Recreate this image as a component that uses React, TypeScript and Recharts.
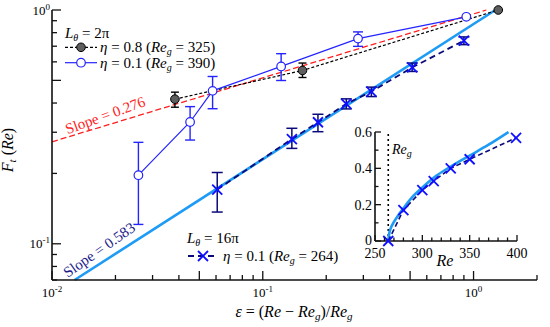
import React from 'react';
import { LineChart, Line, XAxis, YAxis, ErrorBar, ReferenceLine } from 'recharts';

// ---- main panel data: epsilon vs F_t ----
// L_theta = 2pi, eta = 0.8 (Re_g = 325)
const eta08Eps = [0.0383, 0.1543, 1.31];
const eta08F = [0.4155, 0.5513, 1.0];
const eta08Lo = [0.3839, 0.5144, null];
const eta08Hi = [0.4452, 0.5931, null];

// L_theta = 2pi, eta = 0.1 (Re_g = 390)
const eta01Eps = [0.0257, 0.0452, 0.0578, 0.1222, 0.2831, 0.924];
const eta01F = [0.1965, 0.3319, 0.451, 0.5736, 0.7544, 0.935];
const eta01Lo = [0.121, 0.2778, 0.3782, 0.4994, 0.699, null];
const eta01Hi = [0.2716, 0.3861, 0.5195, 0.6503, 0.806, null];

// L_theta = 16pi, eta = 0.1 (Re_g = 264)
const l16Eps = [0.0608, 0.1374, 0.1827, 0.249, 0.3275, 0.5114, 0.9];
const l16F = [0.1706, 0.2805, 0.331, 0.3966, 0.4479, 0.5679, 0.7396];
const l16Lo = [0.1367, 0.2559, 0.3016, 0.3775, 0.4263, 0.5459, 0.7109];
const l16Hi = [0.2018, 0.3119, 0.3581, 0.4168, 0.4678, 0.5931, 0.767];

// power-law guide lines
const fit276Eps = [0.01, 1.15];
const fit276F = [0.273, 1.0];
const fit583Eps = [0.0128, 1.27];
const fit583F = [0.07, 1.0];

// ---- inset data: Re vs F_t ----
const insetRe = [264, 280, 300, 312, 330, 350, 399];
const insetF = [0, 0.17, 0.28, 0.33, 0.4, 0.45, 0.568];
const insetFitRe = [264, 265, 267, 270, 275, 280, 290, 300, 315, 330, 350, 370, 391];
const insetFitF = [0, 0.04, 0.075, 0.105, 0.145, 0.18, 0.245, 0.295, 0.36, 0.41, 0.47, 0.53, 0.6];

// ---- ticks ----
const xTicks = [0.01, 0.02, 0.03, 0.04, 0.05, 0.06, 0.07, 0.08, 0.09, 0.1, 0.2, 0.3, 0.4, 0.5, 0.6, 0.7, 0.8, 0.9, 1, 2];
const xLong = [0.01, 0.05, 0.1, 0.5, 1];
const xLabeled = [0.01, 0.1, 1];
const yTicks = [0.07, 0.08, 0.09, 0.1, 0.2, 0.3, 0.4, 0.5, 0.6, 0.7, 0.8, 0.9, 1];
const yLong = [0.1, 0.5, 1];
const yLabeled = [0.1, 1];

const insetXTicks = [250, 260, 270, 280, 290, 300, 310, 320, 330, 340, 350, 360, 370, 380, 390, 400];
const insetXLabeled = [250, 300, 350, 400];
const insetYTicks = [0, 0.1, 0.2, 0.3, 0.4, 0.5, 0.6];
const insetYLabeled = [0, 0.2, 0.4, 0.6];

const FONT = '"Liberation Serif", "DejaVu Serif", serif';
const BLUE = '#2424ff';
const NAVY = '#0a0a7a';
const XBLUE = '#1010ff';
const LIGHT = '#1e9bf5';
const RED = '#ff1e1e';
const GRAY = '#5e5e5e';
const AX = { stroke: '#111', strokeWidth: 1.6 };

const build = (xs: number[], ys: number[], lo?: (number | null)[], hi?: (number | null)[]) =>
  xs.map((x, i) => ({
    x,
    y: ys[i],
    err: lo && hi && lo[i] != null && hi[i] != null ? [ys[i] - (lo[i] as number), (hi[i] as number) - ys[i]] : null,
  }));

const eta08Data = build(eta08Eps, eta08F, eta08Lo, eta08Hi);
const eta01Data = build(eta01Eps, eta01F, eta01Lo, eta01Hi);
const l16Data = build(l16Eps, l16F, l16Lo, l16Hi);
const fit276Data = build(fit276Eps, fit276F);
const fit583Data = build(fit583Eps, fit583F);
const insetData = build(insetRe, insetF);
const insetFitData = build(insetFitRe, insetFitF);

const isIn = (v: number, arr: number[]) => arr.some((a) => Math.abs(a - v) <= Math.abs(a) * 1e-6 + 1e-12);

function TickMark(props: any) {
  const { x, y, payload, orient, longs, labeled, majLen, minLen, kind } = props;
  const v = payload.value;
  const len = isIn(v, longs) ? majLen : minLen;
  let l;
  if (orient === 'bottom') l = <line x1={x} y1={y} x2={x} y2={y - len} />;
  else if (orient === 'top') l = <line x1={x} y1={y} x2={x} y2={y + len} />;
  else if (orient === 'left') l = <line x1={x} y1={y} x2={x + len} y2={y} />;
  else l = <line x1={x} y1={y} x2={x - len} y2={y} />;
  let label = null;
  if (labeled && isIn(v, labeled)) {
    if (kind === 'log') {
      const e = Math.round(Math.log10(v));
      const content = (
        <>
          10<tspan dy={-5} fontSize={9}>{e < 0 ? `-${-e}` : `${e}`}</tspan>
        </>
      );
      if (orient === 'bottom')
        label = (
          <text x={x} y={y + 17} textAnchor="middle" fontSize={13} fill="#000" fontFamily={FONT}>
            {content}
          </text>
        );
      else if (orient === 'left')
        label = (
          <text x={x - 2} y={y + 4.5} textAnchor="end" fontSize={13} fill="#000" fontFamily={FONT}>
            {content}
          </text>
        );
    } else {
      const txt = `${Math.round(v * 10) / 10}`;
      if (orient === 'bottom')
        label = (
          <text x={x} y={y + 17} textAnchor="middle" fontSize={14} fill="#000" fontFamily={FONT}>
            {txt}
          </text>
        );
      else if (orient === 'left')
        label = (
          <text x={x - 3} y={v === 0 ? y + 3.5 : y + 5} textAnchor="end" fontSize={14} fill="#000" fontFamily={FONT}>
            {txt}
          </text>
        );
    }
  }
  return (
    <g>
      <g stroke="#111" strokeWidth={1.3}>{l}</g>
      {label}
    </g>
  );
}

const GrayDot = (p: any) =>
  p.cx == null ? <g key={`g${p.index}`} /> : (
    <circle key={`g${p.index}`} cx={p.cx} cy={p.cy} r={4.3} fill={GRAY} stroke="#000" strokeWidth={1} />
  );
const OpenDot = (p: any) =>
  p.cx == null ? <g key={`o${p.index}`} /> : (
    <circle key={`o${p.index}`} cx={p.cx} cy={p.cy} r={4.3} fill="#fff" stroke={BLUE} strokeWidth={1.2} />
  );
const CrossDot = (p: any) => {
  if (p.cx == null) return <g key={`c${p.index}`} />;
  const s = 5;
  const { cx, cy } = p;
  return (
    <g key={`c${p.index}`} stroke={XBLUE} strokeWidth={1.8}>
      <line x1={cx - s} y1={cy - s} x2={cx + s} y2={cy + s} />
      <line x1={cx - s} y1={cy + s} x2={cx + s} y2={cy - s} />
    </g>
  );
};

const it = { fontStyle: 'italic' } as React.CSSProperties;

export default function App() {
  const mainTickX = (orient: string) => (p: any) => (
    <TickMark {...p} orient={orient} longs={xLong} labeled={orient === 'bottom' ? xLabeled : null} majLen={9} minLen={5} kind="log" />
  );
  const mainTickY = (orient: string) => (p: any) => (
    <TickMark {...p} orient={orient} longs={yLong} labeled={orient === 'left' ? yLabeled : null} majLen={9} minLen={5} kind="log" />
  );
  const inTickX = (orient: string) => (p: any) => (
    <TickMark {...p} orient={orient} longs={insetXLabeled} labeled={orient === 'bottom' ? insetXLabeled : null} majLen={6} minLen={3.5} kind="lin" />
  );
  const inTickY = (orient: string) => (p: any) => (
    <TickMark {...p} orient={orient} longs={insetYLabeled} labeled={orient === 'left' ? insetYLabeled : null} majLen={6} minLen={3.5} kind="lin" />
  );

  return (
    <div
      style={{
        position: 'absolute',
        left: 0,
        top: 0,
        width: 550,
        height: 327,
        background: '#fff',
        fontFamily: FONT,
      }}
    >
      <LineChart width={550} height={327} margin={{ top: 10, right: 13, bottom: 0, left: 0 }}>
        <XAxis
          xAxisId="b"
          dataKey="x"
          type="number"
          scale="log"
          domain={[0.01, 2]}
          ticks={xTicks}
          interval={0}
          tickSize={0}
          tickMargin={0}
          tickLine={false}
          axisLine={AX}
          height={47}
          tick={mainTickX('bottom')}
        />
        <XAxis
          xAxisId="t"
          orientation="top"
          dataKey="x"
          type="number"
          scale="log"
          domain={[0.01, 2]}
          allowDataOverflow
          ticks={xTicks}
          interval={0}
          tickSize={0}
          tickMargin={0}
          tickLine={false}
          axisLine={AX}
          height={0}
          tick={mainTickX('top')}
        />
        <YAxis
          yAxisId="l"
          dataKey="y"
          type="number"
          scale="log"
          domain={[0.07, 1]}
          ticks={yTicks}
          interval={0}
          tickSize={0}
          tickMargin={0}
          tickLine={false}
          axisLine={AX}
          width={52}
          tick={mainTickY('left')}
        />
        <YAxis
          yAxisId="r"
          orientation="right"
          dataKey="y"
          type="number"
          scale="log"
          domain={[0.07, 1]}
          allowDataOverflow
          ticks={yTicks}
          interval={0}
          tickSize={0}
          tickMargin={0}
          tickLine={false}
          axisLine={AX}
          width={0}
          tick={mainTickY('right')}
        />
        <Line xAxisId="b" yAxisId="l" data={fit583Data} dataKey="y" type="linear" stroke={LIGHT} strokeWidth={2.6} dot={false} activeDot={false} isAnimationActive={false} />
        <Line xAxisId="b" yAxisId="l" data={fit276Data} dataKey="y" type="linear" stroke={RED} strokeWidth={1.3} strokeDasharray="6 3" dot={false} activeDot={false} isAnimationActive={false} />
        <Line xAxisId="b" yAxisId="l" data={eta08Data} dataKey="y" type="linear" stroke="#000" strokeWidth={1.2} strokeDasharray="3 2" dot={GrayDot} activeDot={false} isAnimationActive={false}>
          <ErrorBar dataKey="err" direction="y" width={4} stroke="#000" strokeWidth={1.4} />
        </Line>
        <Line xAxisId="b" yAxisId="l" data={eta01Data} dataKey="y" type="linear" stroke={BLUE} strokeWidth={1.2} dot={OpenDot} activeDot={false} isAnimationActive={false}>
          <ErrorBar dataKey="err" direction="y" width={5} stroke={BLUE} strokeWidth={1.4} />
        </Line>
        <Line xAxisId="b" yAxisId="l" data={l16Data} dataKey="y" type="linear" stroke={NAVY} strokeWidth={1.8} strokeDasharray="6 4" dot={CrossDot} activeDot={false} isAnimationActive={false}>
          <ErrorBar dataKey="err" direction="y" width={5.5} stroke={NAVY} strokeWidth={1.5} />
        </Line>
      </LineChart>

      <div style={{ position: 'absolute', left: 340, top: 125 }}>
        <LineChart width={190} height={150} margin={{ top: 7, right: 13, bottom: 0, left: 0 }}>
          <XAxis xAxisId="b" dataKey="x" type="number" domain={[250, 400]} ticks={insetXTicks} interval={0} tickSize={0} tickMargin={0} tickLine={false} axisLine={AX} height={34} tick={inTickX('bottom')} />
          <XAxis xAxisId="t" orientation="top" dataKey="x" type="number" domain={[250, 400]} allowDataOverflow ticks={insetXTicks} interval={0} tickSize={0} tickMargin={0} tickLine={false} axisLine={AX} height={0} tick={inTickX('top')} />
          <YAxis yAxisId="l" dataKey="y" type="number" domain={[0, 0.6]} ticks={insetYTicks} interval={0} tickSize={0} tickMargin={0} tickLine={false} axisLine={AX} width={35} tick={inTickY('left')} />
          <YAxis yAxisId="r" orientation="right" dataKey="y" type="number" domain={[0, 0.6]} allowDataOverflow ticks={insetYTicks} interval={0} tickSize={0} tickMargin={0} tickLine={false} axisLine={AX} width={0} tick={inTickY('right')} />
          <ReferenceLine xAxisId="b" yAxisId="l" x={264} stroke="#000" strokeWidth={1.6} strokeDasharray="2 3" />
          <Line xAxisId="b" yAxisId="l" data={insetFitData} dataKey="y" type="monotone" stroke={LIGHT} strokeWidth={2.6} dot={false} activeDot={false} isAnimationActive={false} />
          <Line xAxisId="b" yAxisId="l" data={insetData} dataKey="y" type="linear" stroke={NAVY} strokeWidth={1.6} strokeDasharray="5 3" dot={CrossDot} activeDot={false} isAnimationActive={false} />
        </LineChart>
      </div>

      <svg width={550} height={327} fontFamily={FONT} style={{ position: 'absolute', left: 0, top: 0, pointerEvents: 'none' }}>
        {/* legend L = 2pi */}
        <text x={65} y={37.5} fontSize={15} fill="#000">
          <tspan style={it}>L</tspan>
          <tspan style={it} fontSize={10} dy={3}>θ</tspan>
          <tspan dy={-3}> = 2π</tspan>
        </text>
        <line x1={65} y1={47.3} x2={97} y2={47.3} stroke="#000" strokeWidth={1.2} strokeDasharray="3 2" />
        <circle cx={81} cy={47.3} r={4.3} fill={GRAY} stroke="#000" strokeWidth={1} />
        <text x={100} y={52} fontSize={15} fill="#000">
          <tspan style={it}>η</tspan> = 0.8 (<tspan style={it}>Re</tspan>
          <tspan style={it} fontSize={10} dy={3}>g</tspan>
          <tspan dy={-3}> = 325)</tspan>
        </text>
        <line x1={65} y1={62.7} x2={97} y2={62.7} stroke={BLUE} strokeWidth={1.2} />
        <circle cx={81} cy={62.7} r={4.3} fill="#fff" stroke={BLUE} strokeWidth={1.2} />
        <text x={100} y={67.5} fontSize={15} fill="#000">
          <tspan style={it}>η</tspan> = 0.1 (<tspan style={it}>Re</tspan>
          <tspan style={it} fontSize={10} dy={3}>g</tspan>
          <tspan dy={-3}> = 390)</tspan>
        </text>

        {/* legend L = 16pi */}
        <text x={187} y={243} fontSize={15} fill="#000">
          <tspan style={it}>L</tspan>
          <tspan style={it} fontSize={10} dy={3}>θ</tspan>
          <tspan dy={-3}> = 16π</tspan>
        </text>
        <line x1={188} y1={256} x2={218} y2={256} stroke={NAVY} strokeWidth={1.8} strokeDasharray="6 4" />
        <g stroke={XBLUE} strokeWidth={1.8}>
          <line x1={198} y1={251} x2={208} y2={261} />
          <line x1={198} y1={261} x2={208} y2={251} />
        </g>
        <text x={223} y={260.5} fontSize={15} fill="#000">
          <tspan style={it}>η</tspan> = 0.1 (<tspan style={it}>Re</tspan>
          <tspan style={it} fontSize={10} dy={3}>g</tspan>
          <tspan dy={-3}> = 264)</tspan>
        </text>

        {/* slope annotations */}
        <text transform="translate(107,120) rotate(-20)" textAnchor="middle" fontSize={15} fill={RED}>
          Slope = 0.276
        </text>
        <text transform="translate(102,254) rotate(-35)" textAnchor="middle" fontSize={15} fill="#1c1c8c">
          Slope = 0.583
        </text>

        {/* axis titles */}
        <text x={294} y={317} textAnchor="middle" fontSize={16} fill="#000">
          <tspan style={it}>ε</tspan> = (<tspan style={it}>Re</tspan> − <tspan style={it}>Re</tspan>
          <tspan style={it} fontSize={11} dy={3}>g</tspan>
          <tspan dy={-3}>)/</tspan>
          <tspan style={it}>Re</tspan>
          <tspan style={it} fontSize={11} dy={3}>g</tspan>
        </text>
        <text transform="translate(13,150) rotate(-90)" textAnchor="middle" fontSize={16} fill="#000">
          <tspan style={it}>F</tspan>
          <tspan style={it} fontSize={11} dy={3}>t</tspan>
          <tspan dy={-3}> (</tspan>
          <tspan style={it}>Re</tspan>)
        </text>

        {/* inset annotations */}
        <text x={392} y={154} fontSize={14} fill="#000">
          <tspan style={it}>Re</tspan>
          <tspan style={it} fontSize={10} dy={3}>g</tspan>
        </text>
        <text x={445} y={266} textAnchor="middle" fontSize={16} fill="#000" style={it}>
          Re
        </text>
      </svg>
    </div>
  );
}
